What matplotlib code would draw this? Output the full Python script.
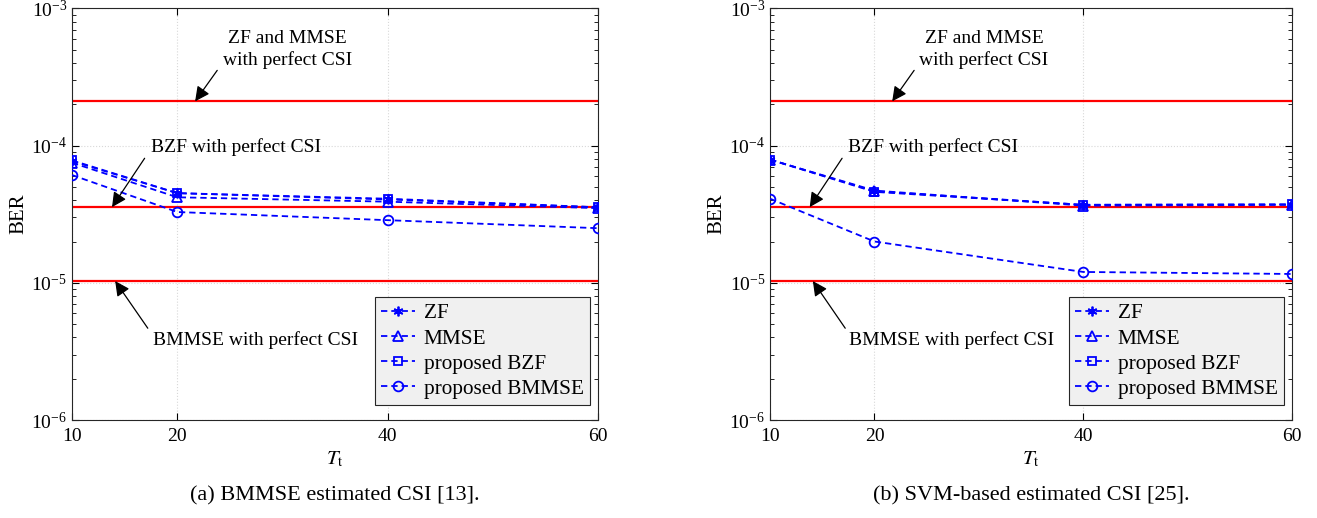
import matplotlib
matplotlib.use("Agg")
import matplotlib.pyplot as plt
from matplotlib.ticker import LogLocator, NullFormatter

plt.rcParams['font.family'] = ['Liberation Serif', 'DejaVu Serif']
plt.rcParams['mathtext.fontset'] = 'stix'

Tt = [10, 20, 40, 60]

# (a) BMMSE estimated CSI
zf_a = [7.7e-5, 4.5e-5, 4.05e-5, 3.55e-5]
mmse_a = [7.5e-5, 4.2e-5, 3.9e-5, 3.5e-5]
bzf_a = [7.8e-5, 4.5e-5, 4.1e-5, 3.55e-5]
bmmse_a = [6.1e-5, 3.28e-5, 2.86e-5, 2.5e-5]

# (b) SVM-based estimated CSI
zf_b = [7.9e-5, 4.65e-5, 3.7e-5, 3.72e-5]
mmse_b = [7.9e-5, 4.7e-5, 3.65e-5, 3.7e-5]
bzf_b = [7.9e-5, 4.6e-5, 3.7e-5, 3.73e-5]
bmmse_b = [4.1e-5, 2.0e-5, 1.2e-5, 1.16e-5]

perfect_zf_mmse = 2.1e-4
perfect_bzf = 3.56e-5
perfect_bmmse = 1.03e-5

captions = ['(a) BMMSE estimated CSI [13].', '(b) SVM-based estimated CSI [25].']
labels = ['ZF', 'MMSE', 'proposed BZF', 'proposed BMMSE']

fig = plt.figure(figsize=(13.17, 5.18), dpi=100)
ax_a = fig.add_axes([0.0547, 0.189, 0.3994, 0.795])
ax_b = fig.add_axes([0.5847, 0.189, 0.3964, 0.795])

asterisk = (6, 2, 0)


def note(ax, text, text_xy, start, tip):
    ax.text(*text_xy, text, ha='center', va='center', fontsize=14, linespacing=1.25)
    ax.annotate('', xy=tip, xytext=start,
                arrowprops=dict(arrowstyle='-|>', color='black', lw=0.9,
                                mutation_scale=22, shrinkA=0, shrinkB=0))


def draw(ax, zf, mmse, bzf, bmmse, caption):
    for val in [perfect_zf_mmse, perfect_bzf, perfect_bmmse]:
        ax.axhline(val, color='red', lw=1.6, zorder=2)
    kw = dict(color='blue', ls='--', lw=1.3, dashes=(3.5, 2.2), ms=7, mew=1.3, zorder=3)
    ax.plot(Tt, zf, marker=asterisk, label=labels[0], **kw)
    ax.plot(Tt, mmse, marker='^', mfc='none', label=labels[1], **kw)
    ax.plot(Tt, bzf, marker='s', mfc='none', ms=6, label=labels[2],
            **{k: v for k, v in kw.items() if k != 'ms'})
    ax.plot(Tt, bmmse, marker='o', mfc='none', label=labels[3], **kw)

    ax.set_yscale('log')
    ax.set_xlim(10, 60)
    ax.set_ylim(1e-6, 1e-3)
    ax.set_xticks(Tt)
    ax.yaxis.set_major_locator(LogLocator(base=10, numticks=10))
    ax.yaxis.set_minor_locator(LogLocator(base=10, subs=range(2, 10), numticks=10))
    ax.yaxis.set_minor_formatter(NullFormatter())
    ax.tick_params(which='both', direction='in', top=True, right=True, labelsize=14)
    ax.tick_params(axis='x', pad=6)
    ax.tick_params(which='major', length=5)
    ax.tick_params(which='minor', length=3)
    ax.grid(True, which='major', ls=':', color='#d8d8d8', lw=0.8)
    for sp in ax.spines.values():
        sp.set_linewidth(0.8)
        sp.set_color('#262626')
    ax.set_xlabel(r'$T_{\mathrm{t}}$', fontsize=15, labelpad=3)
    ax.set_ylabel('BER', fontsize=15, labelpad=2)

    leg = ax.legend(loc='lower right', fontsize=15.3, handlelength=1.6, handletextpad=0.4,
                    borderpad=0.3, labelspacing=0.25, fancybox=False, borderaxespad=0,
                    bbox_to_anchor=(0.985, 0.036))
    leg.get_frame().set_facecolor('#f0f0f0')
    leg.get_frame().set_edgecolor('#262626')
    leg.get_frame().set_linewidth(0.8)
    leg.get_frame().set_alpha(1)

    note(ax, 'ZF and MMSE\nwith perfect CSI', (30.5, 5.0e-4), (23.8, 3.53e-4), (21.7, perfect_zf_mmse))
    note(ax, 'BZF with perfect CSI', (25.6, 9.7e-5), (16.9, 8.08e-5), (13.8, perfect_bzf))
    note(ax, 'BMMSE with perfect CSI', (27.4, 3.82e-6), (17.2, 4.67e-6), (14.1, perfect_bmmse))

    ax.text(0.5, -0.16, caption, transform=ax.transAxes, ha='center', va='top', fontsize=16)


draw(ax_a, zf_a, mmse_a, bzf_a, bmmse_a, captions[0])
draw(ax_b, zf_b, mmse_b, bzf_b, bmmse_b, captions[1])

fig.savefig('out.png', dpi=100)
